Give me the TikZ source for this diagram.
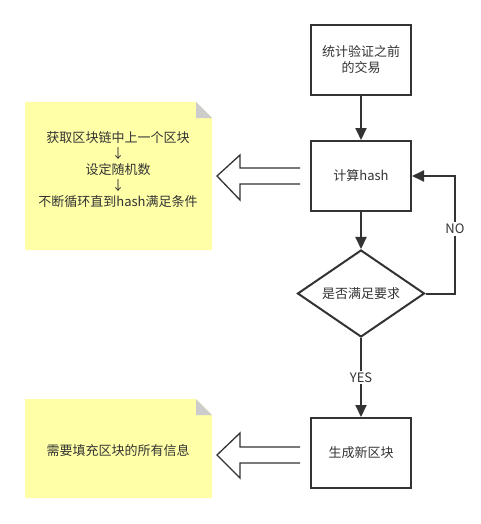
\documentclass[tikz,border=0pt]{standalone}
\usepackage{fontspec}
\setmainfont{Noto Sans CJK SC}
\usetikzlibrary{arrows.meta,shapes.geometric}
\definecolor{ink}{HTML}{333333}
\definecolor{notey}{HTML}{FFFFA8}
\definecolor{fold}{HTML}{CCCCCC}
\begin{document}
\begin{tikzpicture}[x=1pt,y=-1pt,
  every node/.style={text=ink,font=\fontsize{13}{16}\selectfont},
  procbox/.style={draw=ink,line width=2pt,minimum width=100pt,minimum height=70pt,inner sep=0pt,align=center},
  decbox/.style={draw=ink,line width=2pt,diamond,aspect=1.46,minimum width=127pt,minimum height=87pt,inner sep=0pt},
  flow/.style={draw=ink,line width=2pt,-{Triangle[length=12pt,width=11pt]}},
  blockarrow/.style={draw=ink,line width=1.3pt,fill=white,line join=miter},
  notetext/.style={align=center}]
\useasboundingbox (0,0) rectangle (480,524);
% notes
\fill[notey] (25,102) -- (196,102) -- (212,118) -- (212,250) -- (25,250) -- cycle;
\fill[fold] (196,102) -- (212,118) -- (196,118) -- cycle;
\fill[notey] (25,399) -- (196,399) -- (212,415) -- (212,498) -- (25,498) -- cycle;
\fill[fold] (196,399) -- (212,415) -- (196,415) -- cycle;
\node[notetext] (n1) at (118,170) {获取区块链中上一个区块\\↓\\设定随机数\\↓\\不断循环直到hash满足条件};
\node[notetext] (n2) at (118,451) {需要填充区块的所有信息};
% process
\node[procbox] (b1) at (361,60) {统计验证之前\\的交易};
\node[procbox] (b2) at (361,176) {计算hash};
\node[decbox] (d) at (361,293.5) {是否满足要求};
\node[procbox] (b3) at (361,453) {生成新区块};
\draw[flow] (b1) -- (b2);
\draw[flow] (b2) -- (d);
\draw[flow] (d) -- node[fill=white,inner sep=2pt] {YES} (b3);
\coordinate (c1) at (455,293.5);
\coordinate (c2) at (455,176);
\draw[flow] (d.east) -- (c1) -- node[fill=white,inner sep=2pt,pos=0.55] {NO} (c2) -- (b2.east);
% block arrows
\draw[blockarrow] (300,168) -- (240,168) -- (240,155) -- (217,176) -- (240,200) -- (240,184) -- (300,184);
\draw[blockarrow] (300,447) -- (240,447) -- (240,433) -- (217,455) -- (240,478) -- (240,463) -- (300,463);
\end{tikzpicture}
\end{document}
